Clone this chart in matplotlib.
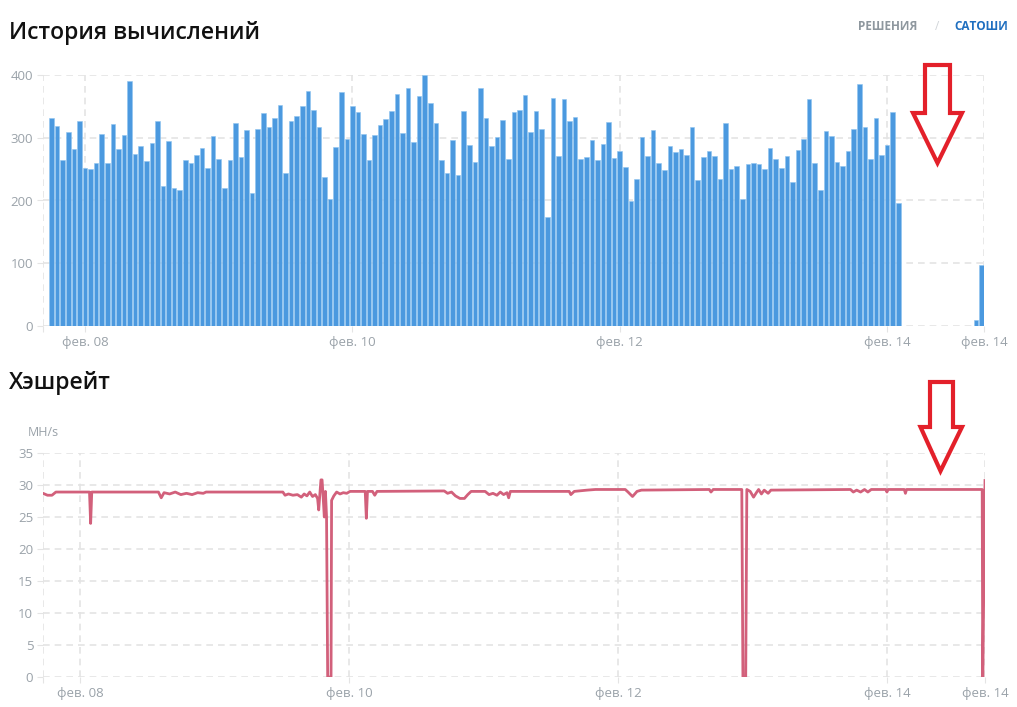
import matplotlib
matplotlib.use("Agg")
import matplotlib.pyplot as plt
from matplotlib.patches import Polygon

plt.rcParams['font.family'] = ['Open Sans', 'DejaVu Sans']

# часы от 08 фев 00:00
bar_hours = list(range(-6, 147)) + [160, 161]
bar_values = [
    331, 318, 265, 309, 282, 327, 252, 250, 259, 306, 259, 322, 282, 305, 390, 274, 287, 263, 291,
    327, 223, 295, 220, 216, 264, 260, 272, 284, 252, 303, 266, 220, 265, 324, 269, 313, 212, 314,
    339, 317, 331, 352, 244, 327, 335, 351, 375, 345, 317, 237, 202, 286, 373, 298, 350, 341, 306,
    265, 305, 321, 330, 342, 369, 307, 379, 294, 367, 400, 356, 323, 265, 244, 297, 241, 342, 289,
    262, 379, 331, 287, 301, 328, 266,
    341, 345, 368, 309, 342, 314, 174, 363, 271, 362, 327, 333, 266, 270, 296, 265, 290, 325, 267,
    279, 254, 199, 235, 301, 271, 312, 260, 249, 287, 277, 282, 273, 317, 233, 270, 279, 271, 234,
    324, 250, 255, 203, 258, 259, 258,
    250, 284, 266, 252, 271, 230, 280, 298, 361, 260, 217, 310, 302, 261, 255, 279, 314, 385, 317,
    266, 332, 272, 288, 341, 196,
    10, 97,
]

hash_hours = [
    -6.6, -5.8, -5.0, -4.3, 1.7, 1.9, 2.1, 14.0, 14.5, 15.0, 16.0, 17.0, 18.0, 19.0, 20.0, 21.0,
    22.0, 22.5, 36.2, 36.6, 37.2, 38.0, 38.8, 39.5, 40.0, 40.5, 41.0, 41.5, 42.0, 42.4, 42.6, 42.8,
    43.0, 43.2, 43.4, 43.6, 43.8, 44.0, 44.2, 44.8, 44.9, 45.3, 45.8, 46.4, 47.0, 47.6, 48.2, 50.9,
    51.1, 51.3, 52.2, 52.6, 53.0, 65.0, 65.6, 66.3, 67.0, 67.8, 68.6, 69.2, 69.8, 72.3, 73.0, 73.7,
    74.4, 75.0, 75.6, 76.2, 76.5, 76.8, 87.3, 87.6, 88.2, 90.5, 92.0, 97.3, 97.8, 98.6, 99.4, 100.2,
    112.3, 112.6, 113.0, 118.1, 118.3, 118.8, 119.0, 119.6, 120.2, 120.7, 121.1, 121.6, 122.1, 122.8,
    123.3, 137.5, 138.0, 138.6, 139.3, 140.0, 140.6, 141.2, 143.8, 144.0, 144.2, 147.1, 147.3, 147.5,
    161.0, 161.1, 161.5,
]
hash_values = [
    28.7, 28.4, 28.4, 28.9, 28.9, 24.0, 28.9, 28.9, 28.0, 28.8, 28.6, 28.9, 28.5, 28.7, 28.5, 28.8,
    28.7, 28.9, 28.9, 28.4, 28.6, 28.4, 28.5, 28.1, 28.6, 28.3, 28.9, 28.2, 28.5, 27.9, 26.1, 28.5,
    30.8, 30.8, 28.0, 25.0, 29.0, 25.0, 0.0, 0.0, 27.6, 28.3, 28.9, 28.6, 28.8, 28.7, 29.0, 29.0,
    24.8, 29.0, 29.0, 28.4, 29.0, 29.07, 28.7, 28.9, 28.3, 27.9, 27.9, 28.5, 29.0, 29.0, 28.5, 28.7,
    28.4, 28.9, 28.5, 28.8, 28.0, 29.0, 29.0, 28.5, 29.0, 29.2, 29.3, 29.3, 28.9, 28.2, 29.0, 29.2,
    29.3, 28.9, 29.3, 29.3, 0.0, 0.0, 29.3, 29.0, 28.1, 28.8, 29.3, 28.6, 29.2, 28.7,
    29.2, 29.3, 28.9, 29.2, 28.9, 29.3, 28.9, 29.3, 29.3, 28.9, 29.3, 29.3, 28.7, 29.3,
    29.3, 0.0, 30.7,
]

tick_hours = [0, 48, 96, 144]
tick_labels = ['фев. 08', 'фев. 10', 'фев. 12', 'фев. 14']

GRAY = '#9aa2a9'
GRID = '#e4e4e4'
W, H = 1017, 707


def fx(x):
    return x / W


def fy(y):
    return 1 - y / H


def style_axes(ax, xmin, xmax, yticks):
    ax.set_xlim(xmin, xmax)
    ax.set_xticks([xmin] + tick_hours + [xmax])
    ax.set_xticklabels([''] + tick_labels + ['фев. 14'])
    ax.set_yticks(yticks)
    for s in ax.spines.values():
        s.set_visible(False)
    ax.grid(True, color=GRID, linestyle=(0, (4, 3)), linewidth=1.2)
    ax.set_axisbelow(True)
    ax.tick_params(length=4, color=GRID, labelcolor=GRAY, labelsize=9.5, pad=3)


fig = plt.figure(figsize=(W / 100, H / 100), dpi=100)

# история вычислений
ax1 = fig.add_axes([fx(43), fy(326), fx(984) - fx(43), fy(75) - fy(326)])
ax1.bar(bar_hours, bar_values, width=0.82, color='#4b99df', edgecolor='#8fc4f0', linewidth=0.4)
ax1.set_ylim(0, 400)
style_axes(ax1, -7.54, 161.4, [0, 100, 200, 300, 400])

# хэшрейт
ax2 = fig.add_axes([fx(43), fy(677), fx(985) - fx(43), fy(453) - fy(677)])
ax2.plot(hash_hours, hash_values, color='#d2607b', linewidth=2)
ax2.set_ylim(0, 35)
style_axes(ax2, -6.6, 161.5, [0, 5, 10, 15, 20, 25, 30, 35])

fig.text(fx(9), fy(33), 'История вычислений', fontsize=16.5, fontweight='semibold',
         color='#111111', va='center', ha='left')
fig.text(fx(9), fy(383), 'Хэшрейт', fontsize=16.5, fontweight='semibold',
         color='#111111', va='center', ha='left')
fig.text(fx(28), fy(432), 'MH/s', fontsize=9, color=GRAY, va='center', ha='left')

fig.text(fx(888), fy(27), 'РЕШЕНИЯ', fontsize=8.5, fontweight='bold', color='#8e979e',
         va='center', ha='center')
fig.text(fx(937), fy(27), '/', fontsize=8.5, color='#d0d4d8', va='center', ha='center')
fig.text(fx(981), fy(27), 'САТОШИ', fontsize=8.5, fontweight='bold', color='#1f6fc0',
         va='center', ha='center')

# красные стрелки
arrows = [
    [(925, 65), (950, 65), (950, 113), (962, 113), (937.5, 163), (913, 113), (925, 113)],
    [(930, 382), (953, 382), (953, 427), (962, 427), (940.5, 471), (920.5, 427), (930, 427)],
]
for pts in arrows:
    fig.add_artist(Polygon([(fx(x), fy(y)) for x, y in pts], closed=True, fill=False,
                           edgecolor='#e3202a', linewidth=3, transform=fig.transFigure,
                           joinstyle='miter'))

fig.savefig('out.png', dpi=100)
